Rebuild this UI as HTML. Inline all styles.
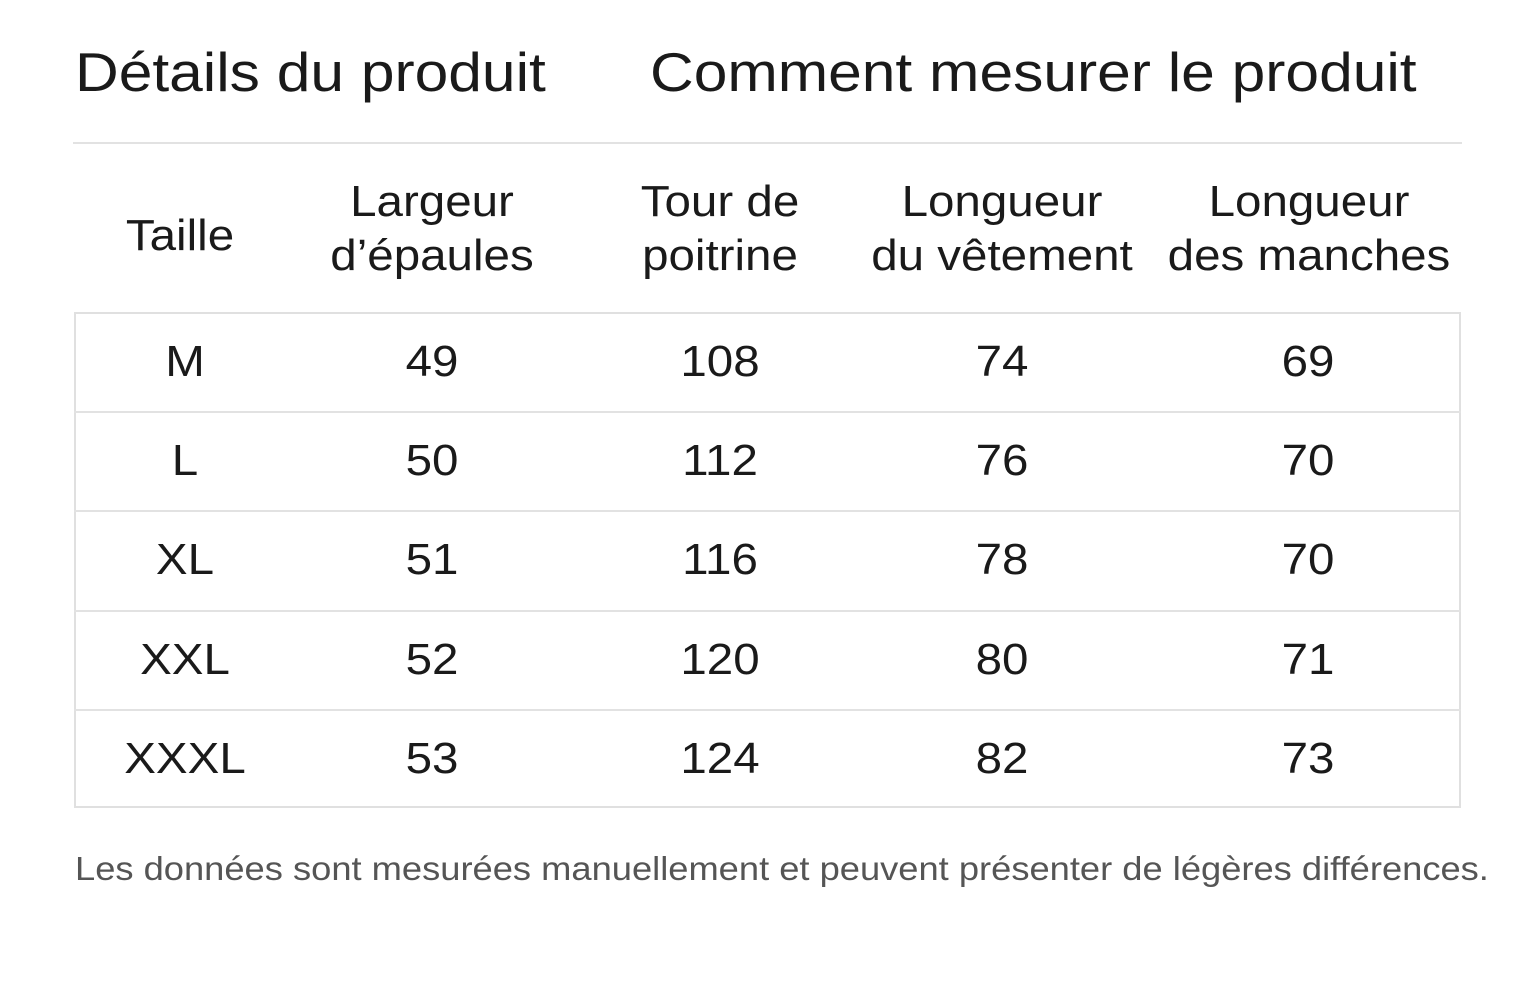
<!DOCTYPE html>
<html><head><meta charset="utf-8">
<style>
body{margin:0;width:1536px;height:984px;background:#fff;font-family:"Liberation Sans",sans-serif;color:#1a1a1a;position:relative;overflow:hidden}
.a{position:absolute;white-space:nowrap;transform-origin:0 0;transform:scaleX(1.1)}
.t{font-size:55px;top:40px}
.c{position:absolute;transform:translateX(-50%) scaleX(1.08);text-align:center;white-space:nowrap;font-size:44px;line-height:54px}
.hl{position:absolute;left:74px;width:1387px;height:2px;background:#e2e2e2}
</style></head><body>
<div class="a t" style="left:75px">Détails du produit</div>
<div class="a t" style="left:650px">Comment mesurer le produit</div>
<div class="hl" style="top:142px;left:73px;width:1389px"></div>

<div>
<div class="c" style="left:180px;top:209px">Taille</div>
<div class="c" style="left:432px;top:175px">Largeur<br>d’épaules</div>
<div class="c" style="left:720px;top:175px">Tour de<br>poitrine</div>
<div class="c" style="left:1002px;top:175px">Longueur<br>du vêtement</div>
<div class="c" style="left:1309px;top:175px">Longueur<br>des manches</div>
</div>

<div style="position:absolute;left:74px;top:312px;width:1383px;height:492px;border:2px solid #e0e0e0"></div>
<div id="rows"></div>

<div class="a" style="left:75px;top:850px;font-size:33px;color:#555">Les données sont mesurées manuellement et peuvent présenter de légères différences.</div>

<script>
const sizes=["M","L","XL","XXL","XXXL"];
const shoulder=[49,50,51,52,53];
const chest=[108,112,116,120,124];
const length=[74,76,78,80,82];
const sleeve=[69,70,70,71,73];
const cols=[185,432,720,1002,1308];
const rowsEl=document.getElementById('rows');
sizes.forEach((s,i)=>{
  const top=312+i*99.2;
  if(i>0){
    const l=document.createElement('div');
    l.className='hl';
    l.style.top=(top)+'px';
    
    
    rowsEl.appendChild(l);
  }
  [s,shoulder[i],chest[i],length[i],sleeve[i]].forEach((v,j)=>{
    const d=document.createElement('div');
    d.className='c';
    d.style.left=cols[j]+'px';
    d.style.top=(top+23)+'px';
    d.textContent=v;
    
    
    rowsEl.appendChild(d);
  });
});
</script>
</body></html>
